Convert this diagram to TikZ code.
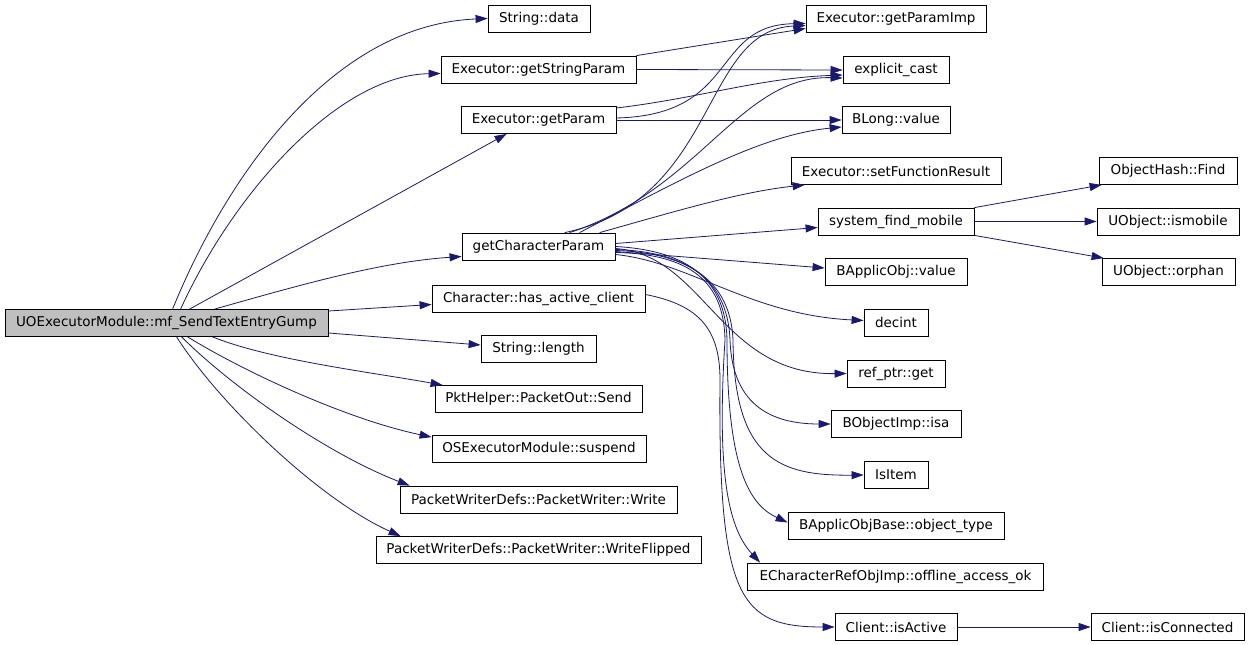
\documentclass[tikz,border=0pt]{standalone}
\usepackage{fontspec}
\setmainfont{DejaVu Sans}
\usepackage{tikz}
\usetikzlibrary{arrows.meta}
\usepackage{xcolor}
\definecolor{edgeblue}{HTML}{191970}
\definecolor{rootfill}{HTML}{BFBFBF}
\newcommand{\fnfont}{\fontsize{13.5}{16}\selectfont}

\begin{document}
\begin{tikzpicture}[x=1pt,y=-1pt,>={Triangle[length=12pt,width=8pt,fill=edgeblue]},
  fn/.style={draw=black,fill=white,line width=0.8pt,minimum height=27pt,inner sep=0pt,font=\fnfont},
  call/.style={->,draw=edgeblue,line width=0.8pt}]
\useasboundingbox[fill=white] (0,0) rectangle (1251,645);
\node (root) [fn,fill=rootfill,minimum width=323pt] at (166.5,323) {UOExecutorModule::mf\_SendTextEntryGump};
\node (sdata) [fn,minimum width=102pt] at (539,18.5) {String::data};
\node (gsp) [fn,minimum width=195pt] at (538.5,69.5) {Executor::getStringParam};
\node (gp) [fn,minimum width=155pt] at (538.5,120) {Executor::getParam};
\node (gcp) [fn,minimum width=153pt] at (538.5,246.5) {getCharacterParam};
\node (hac) [fn,minimum width=213pt] at (538.5,298.5) {Character::has\_active\_client};
\node (slen) [fn,minimum width=115pt] at (538.5,349) {String::length};
\node (pkt) [fn,minimum width=207pt] at (538.5,399) {PktHelper::PacketOut::Send};
\node (susp) [fn,minimum width=214pt] at (539,449) {OSExecutorModule::suspend};
\node (pww) [fn,minimum width=277pt] at (538.5,499.5) {PacketWriterDefs::PacketWriter::Write};
\node (pwwf) [fn,minimum width=325pt] at (538.5,550) {PacketWriterDefs::PacketWriter::WriteFlipped};
\node (gpi) [fn,minimum width=180pt] at (896,18.5) {Executor::getParamImp};
\node (ecast) [fn,minimum width=106pt] at (896,70) {explicit\_cast};
\node (blong) [fn,minimum width=108pt] at (896,120) {BLong::value};
\node (sfr) [fn,minimum width=210pt] at (896,171) {Executor::setFunctionResult};
\node (sfm) [fn,minimum width=156pt] at (896,221.5) {system\_find\_mobile};
\node (bav) [fn,minimum width=142pt] at (896,272) {BApplicObj::value};
\node (decint) [fn,minimum width=64pt] at (896,322.5) {decint};
\node (refptr) [fn,minimum width=98pt] at (896,373.5) {ref\_ptr::get};
\node (isa) [fn,minimum width=130pt] at (896,424) {BObjectImp::isa};
\node (isitem) [fn,minimum width=64pt] at (896,475) {IsItem};
\node (objtype) [fn,minimum width=216pt] at (896,525.5) {BApplicObjBase::object\_type};
\node (offline) [fn,minimum width=296pt] at (895.5,576.5) {ECharacterRefObjImp::offline\_access\_ok};
\node (isact) [fn,minimum width=122pt] at (896,627) {Client::isActive};
\node (ohf) [fn,minimum width=138pt] at (1168,171) {ObjectHash::Find};
\node (uism) [fn,minimum width=142pt] at (1168,221.5) {UObject::ismobile};
\node (uorph) [fn,minimum width=133pt] at (1168.5,272) {UObject::orphan};
\node (iscon) [fn,minimum width=153pt] at (1167.5,627) {Client::isConnected};

\draw[call] ([xshift=168pt]root.north west) .. controls (225,180) and (330,25) .. (sdata.west);
\draw[call] ([xshift=176pt]root.north west) .. controls (235,190) and (340,75) .. ([yshift=-4pt]gsp.west);
\draw[call] ([xshift=185pt]root.north west) -- ([xshift=46pt]gp.south west);
\draw[call] ([xshift=210pt]root.north west) .. controls (300,285) and (380,262) .. ([yshift=-10pt]gcp.west);
\draw[call] ([yshift=12pt]root.east) -- ([yshift=-6pt]hac.west);
\draw[call] ([yshift=-10pt]root.east) -- ([yshift=4pt]slen.west);
\draw[call] ([xshift=208pt]root.south west) .. controls (270,360) and (370,372) .. ([xshift=8pt]pkt.north west);
\draw[call] ([xshift=183pt]root.south west) .. controls (250,375) and (350,420) .. ([yshift=-2pt]susp.north west);
\draw[call] ([xshift=177pt]root.south west) .. controls (235,390) and (330,455) .. ([xshift=10pt]pww.north west);
\draw[call] ([xshift=172pt]root.south west) .. controls (220,405) and (320,500) .. ([xshift=25pt]pwwf.north west);

\draw[call] (gsp.north east) -- ([yshift=-10pt]gpi.west);
\draw[call] (gsp.east) -- (ecast.west);
\draw[call] ([yshift=2pt]gp.east) .. controls (740,115) and (710,25) .. ([yshift=-5pt]gpi.west);
\draw[call] ([yshift=12pt]gp.east) .. controls (700,98) and (760,78) .. ([yshift=-5pt]ecast.west);
\draw[call] (gp.east) -- (blong.west);

\draw[call] ([xshift=103pt]gcp.north west) .. controls (720,200) and (700,30) .. ([yshift=-7pt]gpi.west);
\draw[call] ([xshift=108pt]gcp.north west) .. controls (700,190) and (740,75) .. ([yshift=-8pt]ecast.west);
\draw[call] ([xshift=118pt]gcp.north west) .. controls (680,180) and (760,135) .. ([yshift=-7pt]blong.west);
\draw[call] ([xshift=138pt]gcp.north west) .. controls (680,210) and (740,192) .. ([xshift=14pt]sfr.south west);
\draw[call] ([yshift=3pt]gcp.east) -- ([yshift=-6pt]sfm.west);
\draw[call] ([yshift=-5pt]gcp.east) -- ([yshift=4pt]bav.west);
\draw[call] ([yshift=-8pt]gcp.east) .. controls (690,262) and (750,315) .. ([yshift=2pt]decint.west);
\draw[call] ([yshift=-2pt]gcp.east) .. controls (705,255) and (720,375) .. (refptr.west);
\draw[call] ([yshift=-3pt]gcp.east) .. controls (700,252) and (728,290) .. (730,340) .. controls (732,395) and (760,424) .. (isa.west);
\draw[call] ([yshift=-4pt]gcp.east) .. controls (700,253) and (731,290) .. (733,340) .. controls (734,460) and (780,476) .. (isitem.west);
\draw[call] (gcp.east) .. controls (700,251) and (726,290) .. (727,340) .. controls (727,470) and (750,505) .. ([yshift=3pt]objtype.west);
\draw[call] ([yshift=-6pt]gcp.east) .. controls (700,254) and (724,290) .. (725,340) .. controls (716,480) and (730,530) .. ([xshift=13pt]offline.north west);

\draw[call] ([yshift=4pt]hac.east) .. controls (700,305) and (720,330) .. (720,380) .. controls (718,600) and (740,627) .. (isact.west);
\draw[call] (isact.east) -- (iscon.west);
\draw[call] (sfm.north east) -- ([xshift=3pt]ohf.south west);
\draw[call] (sfm.east) -- (uism.west);
\draw[call] (sfm.south east) -- ([xshift=2pt]uorph.north west);
\end{tikzpicture}
\end{document}
